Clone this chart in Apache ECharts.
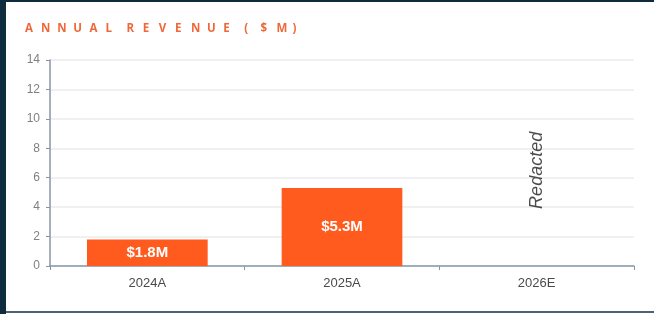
<!DOCTYPE html>
<html>
<head>
<meta charset="utf-8">
<script src="https://cdn.jsdelivr.net/npm/echarts@6/dist/echarts.min.js"></script>
<style>
  html, body { margin: 0; padding: 0; }
  body { width: 654px; height: 314px; background: #0e2b40; position: relative; overflow: hidden; }
  #frame { position: absolute; left: 6px; top: 2px; width: 648px; height: 309px; background: #ffffff; }
  #strip { position: absolute; left: 6px; top: 311px; width: 648px; height: 3px; background: #ffffff; border-top: 2px solid #4b6376; box-sizing: border-box; }
  #main { position: absolute; left: 0; top: 0; width: 654px; height: 314px; }
</style>
</head>
<body>
<div id="frame"></div>
<div id="strip"></div>
<div id="main"></div>
<script>
// chart data
var categories = ['2024A', '2025A', '2026E'];
var revenue = [1.8, 5.3, null];
var barLabels = ['$1.8M', '$5.3M', ''];
var redactedPoint = ['2026E', 6.5];
var titleText = 'ANNUAL REVENUE ($M)';

// letter-spaced title: every letter in a fixed-width rich text cell
var spaced = titleText.split('').map(function (c) {
    return c === ' ' ? '{s| }' : '{c|' + c + '}';
}).join('');

var titleCell = {
    width: 16.1,
    align: 'left',
    color: '#f0683a',
    fontSize: 11.5,
    fontWeight: 'bold',
    fontFamily: 'Open Sans',
    lineHeight: 14
};

var myChart = echarts.init(document.getElementById('main'), null, { renderer: 'canvas' });
myChart.setOption({
    backgroundColor: 'transparent',
    animation: false,
    title: {
        text: spaced,
        left: 25,
        top: 22,
        padding: 0,
        textStyle: {
            rich: {
                c: titleCell,
                s: { width: 5, fontSize: 11.5, lineHeight: 14 }
            }
        }
    },
    grid: {
        left: 50,
        right: 20,
        top: 60,
        bottom: 48
    },
    xAxis: {
        type: 'category',
        data: categories,
        axisLine: { lineStyle: { color: '#8796a5', width: 1.5 } },
        axisTick: { show: true, length: 4, lineStyle: { color: '#8796a5' } },
        axisLabel: {
            color: '#4a4a4a',
            fontSize: 13,
            fontFamily: 'Liberation Sans',
            margin: 11
        }
    },
    yAxis: {
        type: 'value',
        min: 0,
        max: 14,
        interval: 2,
        axisLine: { show: true, lineStyle: { color: '#8796a5', width: 1.5 } },
        axisTick: { show: true, length: 4, lineStyle: { color: '#8796a5' } },
        axisLabel: {
            color: '#808080',
            fontSize: 12,
            fontFamily: 'Liberation Sans',
            margin: 10
        },
        splitLine: { lineStyle: { color: '#ebebeb', width: 1.5 } }
    },
    series: [
        {
            type: 'bar',
            data: revenue,
            barWidth: '62%',
            itemStyle: { color: '#ff5b1f' },
            label: {
                show: true,
                position: 'inside',
                color: '#fff',
                fontSize: 15,
                fontWeight: 'bold',
                fontFamily: 'Liberation Sans',
                formatter: function (p) { return barLabels[p.dataIndex]; }
            }
        },
        {
            type: 'scatter',
            data: [redactedPoint],
            symbolSize: 0,
            silent: true,
            label: {
                show: true,
                position: 'inside',
                rotate: 90,
                formatter: 'Redacted',
                color: '#1e1e1e',
                fontSize: 18,
                fontStyle: 'italic',
                fontFamily: 'Liberation Sans'
            }
        }
    ]
});
</script>
</body>
</html>
